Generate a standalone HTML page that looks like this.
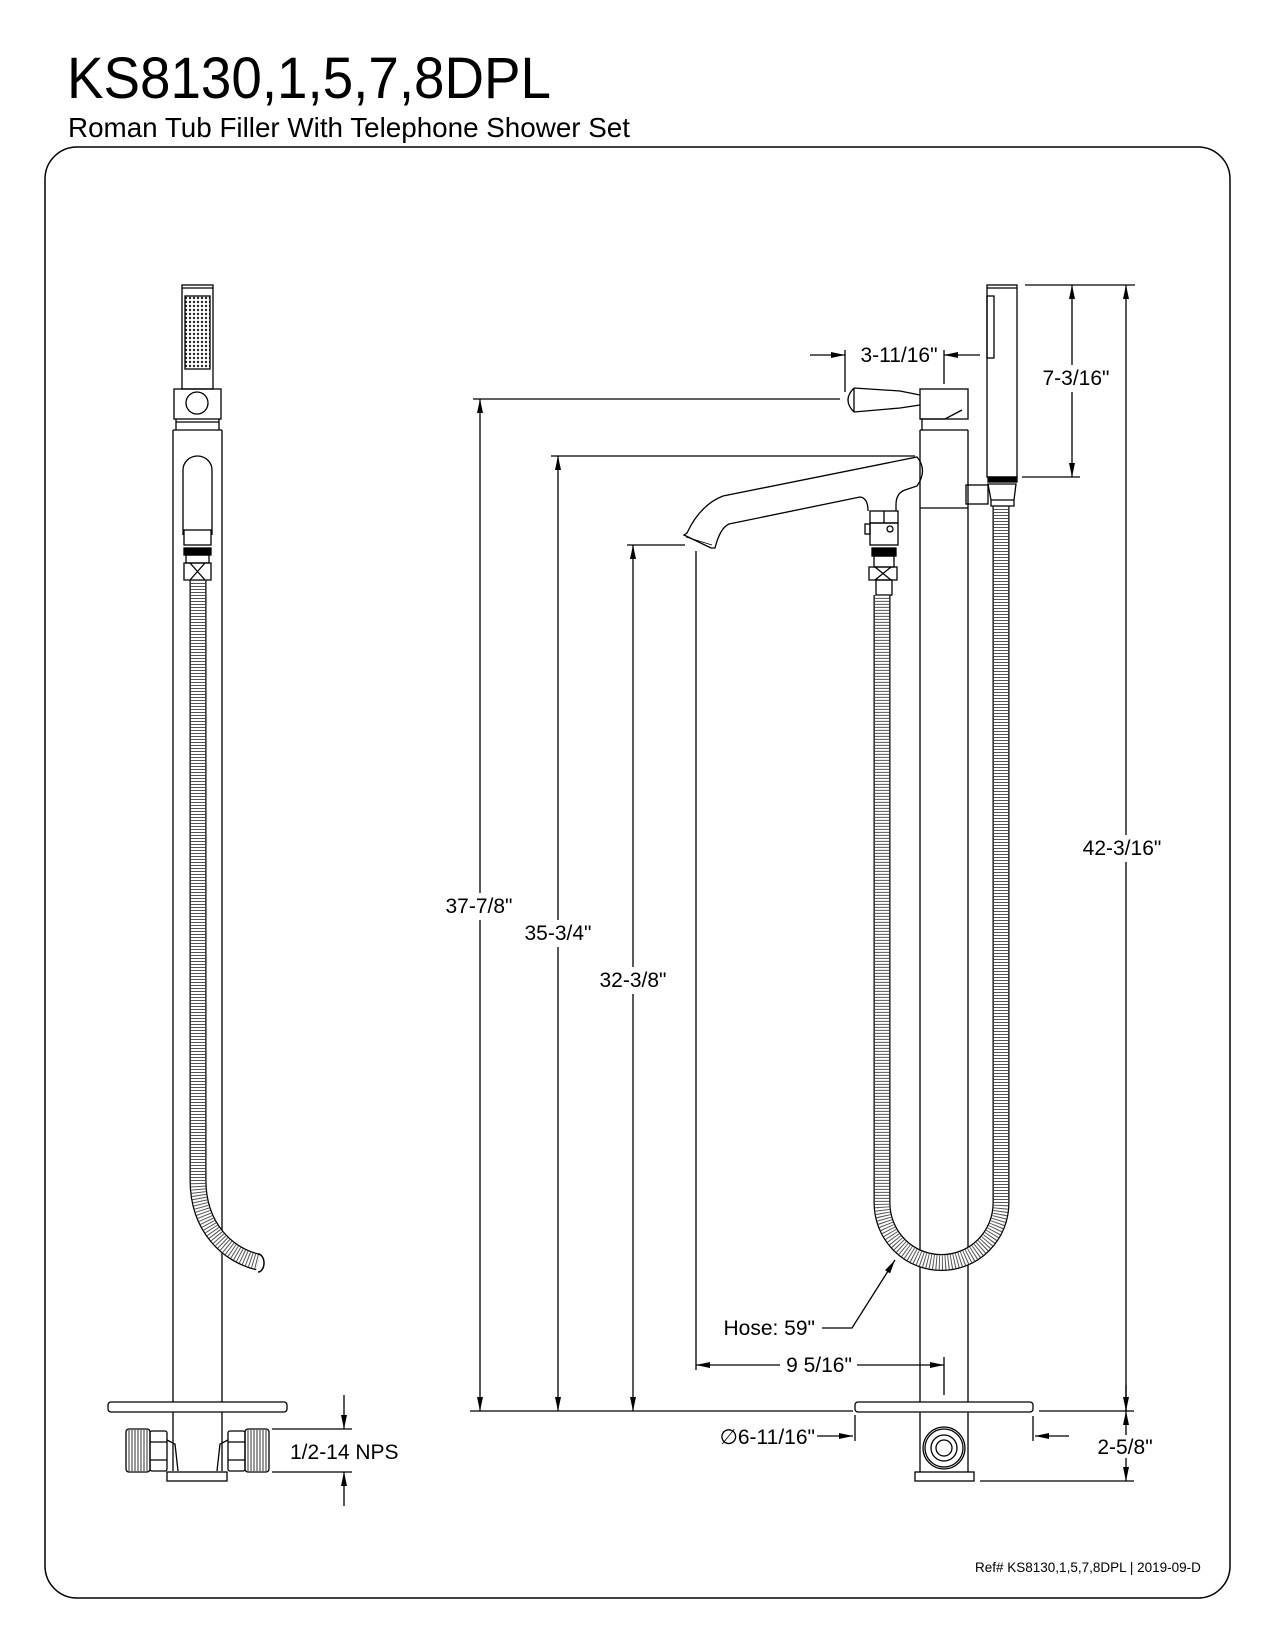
<!DOCTYPE html>
<html><head><meta charset="utf-8"><style>
html,body{margin:0;padding:0;background:#fff}
svg{display:block}
text{font-family:"Liberation Sans",Arial,sans-serif;fill:#000}
</style></head><body>
<svg width="1275" height="1650" viewBox="0 0 1275 1650" xmlns="http://www.w3.org/2000/svg">
<defs>
<marker id="a" viewBox="0 0 14 6" refX="14" refY="3" markerWidth="14" markerHeight="6" markerUnits="userSpaceOnUse" orient="auto"><path d="M0,0 L14,3 L0,6 Z" fill="#000"/></marker>
<pattern id="dots" width="4" height="4" patternUnits="userSpaceOnUse"><circle cx="2" cy="2" r="1.2" fill="#222"/></pattern>
</defs>
<text x="67" y="98" font-size="58" textLength="484" lengthAdjust="spacingAndGlyphs">KS8130,1,5,7,8DPL</text>
<text x="68" y="137" font-size="28" textLength="562" lengthAdjust="spacingAndGlyphs">Roman Tub Filler With Telephone Shower Set</text>
<rect x="45" y="147" width="1185" height="1451" rx="32" fill="none" stroke="#000" stroke-width="1.5"/>

<g fill="none" stroke="#000" stroke-width="1.3">
<!-- LEFT VIEW -->
<rect x="182" y="285" width="31" height="104" fill="#fff"/>
<line x1="182" y1="288" x2="213" y2="288"/>
<rect x="185" y="296" width="25" height="73" fill="url(#dots)"/>
<rect x="174" y="389" width="47" height="30"/>
<circle cx="197" cy="403" r="11"/>
<path d="M176 419 L176 430 M219 419 L219 430 M176 422 L219 422"/>
<path d="M173 430 L222 430 M173 430 L173 1402 M222 430 L222 1402"/>
<path d="M183 535 L183 470 A14.5 14 0 0 1 212 470 L212 535"/>
<rect x="184" y="530" width="27" height="15"/>
<rect x="184" y="548" width="27" height="7" fill="#000"/>
<rect x="186" y="555" width="23" height="8"/>
<path d="M184 563 L211 563 L211 580 L184 580 Z M190 563 L205 580 M205 563 L190 580"/>
<path d="M198 580 L198 1180 C198 1228 228 1255 258 1262" stroke="#000" stroke-width="17"/>
<path d="M198 580 L198 1180 C198 1228 228 1255 258 1262" stroke="#fff" stroke-width="14.5"/>
<path d="M198 580 L198 1180 C198 1228 228 1255 258 1262" stroke="#555" stroke-width="14.5" stroke-dasharray="1 2"/>
<path d="M258 1254 A6 9 0 0 1 258 1272" stroke-width="1.5"/>
<rect x="108" y="1402" width="179" height="10" rx="3" fill="#fff"/>
<line x1="173" y1="1412" x2="173" y2="1471"/><line x1="222" y1="1412" x2="222" y2="1471"/>
<rect x="126" y="1429" width="24" height="43" rx="3"/>
<path d="M129 1430 V1471 M132 1430 V1471 M135 1430 V1471 M138 1430 V1471 M141 1430 V1471 M144 1430 V1471 M147 1430 V1471" stroke-width="0.8"/>
<rect x="150" y="1431" width="17" height="40" rx="2"/>
<path d="M150 1442 H167 M150 1460 H167 M167 1440 L175 1444 L178 1471"/>
<rect x="245" y="1429" width="24" height="43" rx="3"/>
<path d="M248 1430 V1471 M251 1430 V1471 M254 1430 V1471 M257 1430 V1471 M260 1430 V1471 M263 1430 V1471 M266 1430 V1471" stroke-width="0.8"/>
<rect x="228" y="1431" width="17" height="40" rx="2"/>
<path d="M228 1442 H245 M228 1460 H245 M228 1440 L220 1444 L217 1471"/>
<rect x="167" y="1472" width="60" height="9"/>
<line x1="272" y1="1429" x2="352" y2="1429"/><line x1="272" y1="1472" x2="352" y2="1472"/>
<line x1="344" y1="1395" x2="344" y2="1429" marker-end="url(#a)"/>
<line x1="344" y1="1506" x2="344" y2="1472" marker-end="url(#a)"/>

<!-- RIGHT VIEW -->
<path d="M920 430 L920 1402 M968 430 L968 1402 M920 430 L968 430 M920 508 L968 508"/>
<path d="M922 419 L922 430 M966 419 Q966 410 962 404"/>
<rect x="920" y="389" width="48" height="30" fill="#fff"/>
<path d="M920 419 L945 419 L962 410"/>
<path d="M854 388 L900 391 L920 395 M854 412 L900 408 L920 405 M854 388 Q842 400 854 412 M854 388 V412"/>
<!-- spout -->
<path d="M723 496 L917 457 Q928 470 917 486 L905 490 Q896 493 896 505 L896 511 M723 496 Q700 505 687 533 L684 535 L711 548 L715 548 Q720 528 729 524 L860 497 Q868 498 868 511"/>
<path d="M686 537 L712 545" stroke-width="0.9"/>
<!-- fitting -->
<rect x="870" y="511" width="28" height="12"/><line x1="884" y1="511" x2="884" y2="523"/>
<rect x="870" y="523" width="28" height="22"/><rect x="865" y="524" width="5" height="10"/>
<circle cx="890" cy="529" r="3"/>
<rect x="872" y="548" width="24" height="8" fill="#000"/>
<rect x="874" y="556" width="20" height="11"/>
<path d="M869 567 L897 567 L897 580 L869 580 Z M875 567 L891 580 M891 567 L875 580"/>
<rect x="876" y="580" width="16" height="15"/>
<!-- handshower -->
<rect x="987" y="285" width="30" height="192" fill="#fff"/>
<line x1="987" y1="288" x2="1017" y2="288"/>
<rect x="987" y="296" width="7" height="62"/>
<rect x="988" y="477" width="29" height="5" fill="#000"/>
<rect x="966" y="485" width="22" height="19"/>
<path d="M988 484 L1016 484 L1014 500 L991 500 Z M991 500 H1014 V506 H991 Z"/>
<!-- U hose -->
<path d="M1001 506 L1001 1203 A59.5 59.5 0 0 1 882 1203 L882 595" stroke="#000" stroke-width="17"/>
<path d="M1001 506 L1001 1203 A59.5 59.5 0 0 1 882 1203 L882 595" stroke="#fff" stroke-width="14.5"/>
<path d="M1001 506 L1001 1203 A59.5 59.5 0 0 1 882 1203 L882 595" stroke="#555" stroke-width="14.5" stroke-dasharray="1 2"/>
<!-- base -->
<rect x="855" y="1402" width="178" height="10" rx="3" fill="#fff"/>
<line x1="920" y1="1412" x2="920" y2="1472"/><line x1="968" y1="1412" x2="968" y2="1472"/>
<circle cx="944" cy="1448" r="21"/><circle cx="944" cy="1448" r="19"/><circle cx="944" cy="1448" r="13"/><circle cx="944" cy="1448" r="8"/>
<rect x="915" y="1472" width="59" height="9"/>

<!-- dimension lines right view -->
<line x1="473" y1="399" x2="840" y2="399"/>
<line x1="551" y1="456" x2="915" y2="456"/>
<line x1="627" y1="545" x2="685" y2="545"/>
<line x1="470" y1="1411" x2="853" y2="1411"/>
<line x1="480" y1="893" x2="480" y2="399" marker-end="url(#a)"/><line x1="480" y1="920" x2="480" y2="1411" marker-end="url(#a)"/>
<line x1="558" y1="920" x2="558" y2="456" marker-end="url(#a)"/><line x1="558" y1="947" x2="558" y2="1411" marker-end="url(#a)"/>
<line x1="633" y1="967" x2="633" y2="545" marker-end="url(#a)"/><line x1="633" y1="994" x2="633" y2="1411" marker-end="url(#a)"/>
<line x1="696" y1="551" x2="696" y2="1370"/>
<line x1="944" y1="1357" x2="944" y2="1395"/>
<line x1="780" y1="1365" x2="696" y2="1365" marker-end="url(#a)"/>
<line x1="857" y1="1365" x2="944" y2="1365" marker-end="url(#a)"/>
<line x1="845" y1="350" x2="845" y2="392"/><line x1="944" y1="350" x2="944" y2="384"/>
<line x1="810" y1="355" x2="845" y2="355" marker-end="url(#a)"/>
<line x1="980" y1="355" x2="944" y2="355" marker-end="url(#a)"/>
<line x1="1025" y1="285" x2="1135" y2="285"/>
<line x1="1022" y1="477" x2="1080" y2="477"/>
<line x1="1072" y1="365" x2="1072" y2="285" marker-end="url(#a)"/>
<line x1="1072" y1="392" x2="1072" y2="477" marker-end="url(#a)"/>
<line x1="1126" y1="835" x2="1126" y2="285" marker-end="url(#a)"/>
<line x1="1126" y1="862" x2="1126" y2="1411" marker-end="url(#a)"/>
<line x1="1039" y1="1411" x2="1134" y2="1411"/>
<line x1="980" y1="1481" x2="1134" y2="1481"/>
<line x1="1126" y1="1435" x2="1126" y2="1411" marker-end="url(#a)"/>
<line x1="1126" y1="1458" x2="1126" y2="1481" marker-end="url(#a)"/>
<line x1="1126" y1="1385" x2="1126" y2="1411"/>
<line x1="855" y1="1415" x2="855" y2="1441"/><line x1="1033" y1="1416" x2="1033" y2="1441"/>
<line x1="817" y1="1436" x2="853" y2="1436" marker-end="url(#a)"/>
<line x1="1069" y1="1436" x2="1035" y2="1436" marker-end="url(#a)"/>
<path d="M822 1328 L852 1328 L895 1260" marker-end="url(#a)"/>
</g>

<g font-size="21" text-anchor="middle">
<text x="479" y="913">37-7/8"</text>
<text x="558" y="940">35-3/4"</text>
<text x="633" y="987">32-3/8"</text>
<text x="899" y="362">3-11/16"</text>
<text x="1076" y="385">7-3/16"</text>
<text x="1122" y="855">42-3/16"</text>
<text x="1125" y="1454">2-5/8"</text>
<text x="819" y="1372">9 5/16"</text>
</g>
<g font-size="21" text-anchor="end">
<text x="815" y="1335">Hose: 59"</text>
<text x="815" y="1444">∅6-11/16"</text>
</g>
<text x="290" y="1459" font-size="21">1/2-14 NPS</text>
<text x="975" y="1572" font-size="13.5">Ref# KS8130,1,5,7,8DPL | 2019-09-D</text>
</svg>
</body></html>
